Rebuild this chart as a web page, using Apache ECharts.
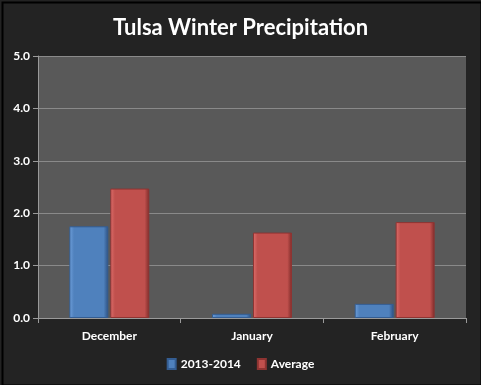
<!DOCTYPE html>
<html><head><meta charset="utf-8">
<script src="https://cdn.jsdelivr.net/npm/echarts@6/dist/echarts.min.js"></script>
<style>html,body{margin:0;padding:0;background:#000;}#c{width:481px;height:385px;}</style>
</head><body><div id="c"></div>
<script>
var categories = ["December", "January", "February"];
var season2013 = [1.75, 0.08, 0.27];
var average = [2.47, 1.63, 1.83];
var yTicks = [0, 1, 2, 3, 4, 5];

function grad(l, m, r) {
  return new echarts.graphic.LinearGradient(0, 0, 1, 0, [
    {offset: 0, color: l}, {offset: 0.12, color: m}, {offset: 0.88, color: m}, {offset: 1, color: r}
  ]);
}
var chart = echarts.init(document.getElementById('c'));
chart.setOption({
  backgroundColor: '#232323',
  animation: false,
  graphic: [{type: 'rect', left: 0, top: 0, silent: true, z: 100,
    shape: {x: 1, y: 1, width: 479, height: 383},
    style: {fill: null, stroke: '#000000', lineWidth: 2}}],
  title: {
    text: 'Tulsa Winter Precipitation', left: 'center', top: 12,
    textStyle: {color: '#ffffff', fontFamily: 'Lato', fontWeight: 'bold', fontSize: 22}
  },
  legend: {
    bottom: 10, left: 'center', itemWidth: 8, itemHeight: 10, itemGap: 16,
    icon: 'rect',
    textStyle: {color: '#ffffff', fontFamily: 'Lato', fontWeight: 'bold', fontSize: 12},
    data: ['2013-2014', 'Average']
  },
  grid: {left: 38, right: 15, top: 56, bottom: 67, backgroundColor: '#595959', show: true, borderWidth: 0},
  xAxis: {
    type: 'category', data: categories,
    axisLine: {lineStyle: {color: '#9a9a9a'}},
    axisTick: {show: true, length: 5, lineStyle: {color: '#9a9a9a'}},
    axisLabel: {color: '#ffffff', fontFamily: 'Lato', fontWeight: 'bold', fontSize: 12, margin: 12}
  },
  yAxis: {
    type: 'value', min: 0, max: 5, interval: 1,
    axisLine: {show: true, lineStyle: {color: '#9a9a9a'}},
    axisTick: {show: true, length: 5, lineStyle: {color: '#9a9a9a'}},
    splitLine: {lineStyle: {color: '#8a8a8a'}},
    axisLabel: {color: '#ffffff', fontFamily: 'Lato', fontWeight: 'bold', fontSize: 12, margin: 8,
      formatter: function (v) { return yTicks.indexOf(v) >= 0 ? v.toFixed(1) : ''; }}
  },
  series: [
    {name: '2013-2014', type: 'bar', data: season2013, barWidth: 39, barGap: '5%',
     itemStyle: {color: grad('#6f9fda', '#4f81bd', '#2c4f80'), borderColor: '#345d92', borderWidth: 1}},
    {name: 'Average', type: 'bar', data: average, barWidth: 39,
     itemStyle: {color: grad('#de6e6b', '#c0504d', '#7d2b29'), borderColor: '#8e3432', borderWidth: 1}}
  ]
});
</script></body></html>
